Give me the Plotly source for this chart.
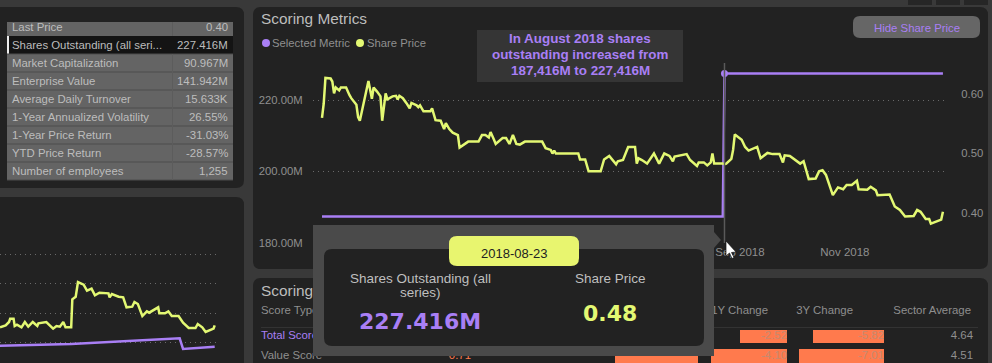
import pandas as pd
import plotly.graph_objects as go

# ---------- data ----------
price_days = [0,1,2,5,6,7,8,10,11,14,16,17,20,21,22,24,27,29,30,32,34,35,37,38,41,43,44,45,47,49,51,52,55,56,57,59,63,64,66,69,71,72,74,76,79,80,84,85,86,91,93,95,97,98,100,101,105,107,109,111,113,115,118,128,130,133,134,135,136,149,150,153,155,162,164,167,171,172,175,178,182,183,184,186,189,193,196,199,202,204,205,212,214,218,219,222,224,226,227,228,233,234,235,238,239,240,244,246,248,253,255,259,262,266,268,269,272,276,278,280,283,287,289,291,293,297,300,303,305,308,311,312,317,319,322,323,330,333,336,339,344,346,348,351,353,354,360,361]
price_vals = [.560,.584,.627,.626,.621,.601,.611,.606,.611,.611,.598,.593,.582,.561,.555,.584,.622,.592,.611,.604,.596,.555,.601,.591,.596,.597,.591,.597,.593,.585,.576,.585,.581,.578,.581,.571,.571,.576,.556,.555,.541,.551,.541,.535,.531,.510,.517,.520,.520,.520,.531,.531,.527,.536,.523,.516,.526,.526,.516,.531,.516,.515,.520,.520,.509,.506,.500,.505,.500,.500,.490,.490,.470,.470,.490,.496,.482,.487,.489,.511,.511,.483,.492,.489,.483,.500,.483,.500,.496,.487,.495,.499,.489,.479,.485,.485,.480,.485,.500,.483,.483,.482,.483,.491,.506,.532,.523,.511,.505,.511,.492,.501,.499,.499,.485,.497,.496,.488,.483,.487,.457,.458,.470,.472,.464,.430,.443,.440,.447,.447,.454,.440,.439,.444,.438,.430,.431,.411,.405,.394,.395,.405,.402,.390,.390,.382,.389,.402]
metric_days = [0, 233, 234, 361]
metric_vals = [187.416, 187.416, 227.416, 227.416]
hover_day = [234]
hover_metric = [227.416]

mini_days = [171,176,179,180,183,184,186,190,193,196,200,204,205,212,215,218,221,224,227,229,234,235,238,240,245,248,252,255,259,267,268,270,276,280,283,288,290,293,297,301,303,307,311,312,317,320,323,329,333,338,344,346,350,353,360,361]
mini_vals = [.396,.402,.412,.422,.422,.400,.404,.396,.412,.398,.412,.400,.408,.412,.402,.392,.400,.398,.412,.396,.396,.480,.488,.532,.524,.506,.512,.492,.500,.498,.486,.496,.488,.486,.456,.458,.472,.466,.430,.444,.440,.448,.456,.438,.438,.444,.430,.430,.410,.394,.394,.406,.396,.382,.392,.402]
mini_line_days = [171, 234, 330, 333, 361]
mini_line_vals = [.341, .346, .363, .331, .338]

metric_labels = ["Last Price","Shares Outstanding (all seri...","Market Capitalization","Enterprise Value","Average Daily Turnover","1-Year Annualized Volatility","1-Year Price Return","YTD Price Return","Number of employees"]
metric_values = ["0.40","227.416M","90.967M","141.942M","15.633K","26.55%","-31.03%","-28.57%","1,255"]

score_rows = ["Total Score","Value Score"]
sector_avg = ["4.64","4.51"]
change_1y = [-2.52, -4.10]
change_3y = [-5.82, -7.01]
change_other = [-4.45]
headers = ["Score Type","1Y Change","3Y Change","Sector Average"]

OUTER="#393939"; PANEL="#222222"; PURPLE="#a97ff5"; YELLOW="#e3f873"; GREY="#8f8f8f"; FONT="Liberation Sans, Arial, sans-serif"
W,H=992,363
X=lambda p:p/W
Y=lambda p:1-p/H
def start(d): return pd.Timestamp("2018-01-01")+pd.to_timedelta(d,unit="D")
def dates(ds): return [start(d) for d in ds]

def rrect(x0,y0,x1,y1,r,fill,layer="below",line=None):
    a,b,c,d=X(x0),Y(y0),X(x1),Y(y1); rx,ry=r/W,r/H
    p=(f"M{a+rx},{b} L{c-rx},{b} Q{c},{b} {c},{b-ry} L{c},{d+ry} Q{c},{d} {c-rx},{d} "
       f"L{a+rx},{d} Q{a},{d} {a},{d+ry} L{a},{b-ry} Q{a},{b} {a+rx},{b} Z")
    return dict(type="path",path=p,xref="paper",yref="paper",fillcolor=fill,line=dict(width=0) if line is None else line,layer=layer)
def rect(x0,y0,x1,y1,fill,layer="below"):
    return dict(type="rect",xref="paper",yref="paper",x0=X(x0),x1=X(x1),y0=Y(y1),y1=Y(y0),fillcolor=fill,line=dict(width=0),layer=layer)
def poly(pts,fill,layer="above",line=None):
    p="M"+" L".join(f"{X(a)},{Y(b)}" for a,b in pts)+" Z"
    return dict(type="path",path=p,xref="paper",yref="paper",fillcolor=fill,line=dict(width=0) if line is None else line,layer=layer)
def note(x,y,t,size=12,color=GREY,anchor="center",bold=False,family=FONT):
    return dict(x=X(x),y=Y(y),xref="paper",yref="paper",text=f"<b>{t}</b>" if bold else t,showarrow=False,xanchor=anchor,yanchor="middle",
                font=dict(size=size,color=color,family=family),borderpad=0,borderwidth=0)

shapes=[]; ann=[]
# panels
shapes+= [rrect(-10,7,244,188,8,PANEL),rrect(-10,197,244,373,8,PANEL),rrect(253,7,988,269,8,PANEL),rrect(253,278,988,373,8,PANEL)]
for a,b in [(908,932),(936,960),(964,988)]:
    shapes.append(rect(a,0,b,5,"#262626"))
# key figures table
shapes.append(rect(7,22,233,180,"#646464"))
shapes.append(rect(7,36,233,54,"#141414"))
shapes.append(rect(7,36,9,54,"#eeeeee"))
for i in range(1,9):
    shapes.append(rect(7,36+18*i-0.5,233,36+18*i+0.5,"#4c4c4c"))
shapes.append(rect(172,22,173,36,"#5c5c5c")); shapes.append(rect(172,54,173,180,"#5c5c5c"))
for i,(l,v) in enumerate(zip(metric_labels,metric_values)):
    yy=27+18*i
    ann.append(note(12,yy,l,11.4,"#bdbdbd","left"))
    ann.append(note(228,yy,v,11.4,"#bdbdbd","right"))
# main chart furniture
ann.append(note(261,19,"Scoring Metrics",15.4,"#bdbdbd","left"))
shapes.append(dict(type="circle",xref="paper",yref="paper",x0=X(262),x1=X(270),y0=Y(47),y1=Y(39),fillcolor=PURPLE,line=dict(width=0),layer="below"))
shapes.append(dict(type="circle",xref="paper",yref="paper",x0=X(356),x1=X(364),y0=Y(47),y1=Y(39),fillcolor=YELLOW,line=dict(width=0),layer="below"))
ann.append(note(272,43,"Selected Metric",11.3,GREY,"left"))
ann.append(note(367,43,"Share Price",11.3,GREY,"left"))
shapes.append(rect(477,30,683,82,"#353535"))
for yy,t in zip([39,55,71],["In August 2018 shares","outstanding increased from","187,416M to 227,416M"]):
    ann.append(note(580,yy,t,13.4,PURPLE,bold=True))
shapes.append(rrect(853,16,980,38,7,"#666666"))
ann.append(note(917,28,"Hide Share Price",11.4,PURPLE))
ann.append(note(261,290,"Scoring",15.4,"#bdbdbd","left"))
# hover line
shapes.append(dict(type="line",xref="x",yref="paper",x0=start(234),x1=start(234),y0=Y(243),y1=Y(63),line=dict(color="#5a5a5a",width=1.5),layer="above"))
# tooltip
shapes.append(poly([(714,232),(721,240),(714,248)],"#4a4a4a"))
shapes.append(rect(313,225,714,356,"#4a4a4a","above"))
shapes.append(rrect(324,249,704,346,8,PANEL,"above"))
shapes.append(rrect(449,236,579,266,8,"#e8f56f","above"))
ann+= [note(514,253,"2018-08-23",13,"#222222"),
       note(420,278,"Shares Outstanding (all",13.5,"#bfbfbf"),note(420,292,"series)",13.5,"#bfbfbf"),
       note(610,278,"Share Price",13.5,"#bfbfbf"),
       note(420,321,"227.416M",22,PURPLE,bold=True,family="DejaVu Sans"),
       note(610,313,"0.48",22,YELLOW,bold=True,family="DejaVu Sans")]
# cursor
shapes.append(poly([(726,241),(726,256),(729.5,253),(732,258.5),(734,257.5),(731.5,252.5),(736,252)],"#ffffff","above",dict(color="#111111",width=0.7)))
# table header rule
shapes.append(rect(261,327,978,328,"#333333"))

fig=go.Figure()
# main chart
fig.add_trace(go.Scatter(x=dates(price_days),y=price_vals,yaxis="y2",xaxis="x",mode="lines",name="Share Price",line=dict(color=YELLOW,width=2.5),showlegend=False))
fig.add_trace(go.Scatter(x=dates(metric_days),y=metric_vals,xaxis="x",yaxis="y",mode="lines",name="Selected Metric",line=dict(color=PURPLE,width=2.5),showlegend=False))
fig.add_trace(go.Scatter(x=dates(hover_day),y=hover_metric,xaxis="x",yaxis="y",mode="markers",marker=dict(color=PURPLE,size=7),showlegend=False))
# mini chart
fig.add_trace(go.Scatter(x=mini_days,y=mini_vals,xaxis="x3",yaxis="y3",mode="lines",line=dict(color=YELLOW,width=2.5),showlegend=False))
fig.add_trace(go.Scatter(x=mini_line_days,y=mini_line_vals,xaxis="x3",yaxis="y3",mode="lines",line=dict(color=PURPLE,width=2.5),showlegend=False))
# score table: bars and text, sitting under the tooltip
row_y=[336.5,356]
ORANGE="#ff7a4d"
fig.add_trace(go.Bar(x=change_1y,y=row_y,orientation="h",width=13.5,xaxis="x4",yaxis="y4",marker=dict(color=ORANGE,line=dict(width=0)),showlegend=False))
fig.add_trace(go.Bar(x=change_3y,y=row_y,orientation="h",width=13.5,xaxis="x5",yaxis="y4",marker=dict(color=ORANGE,line=dict(width=0)),showlegend=False))
fig.add_trace(go.Bar(x=change_other,y=row_y[1:],orientation="h",width=13.5,xaxis="x6",yaxis="y4",marker=dict(color=ORANGE,line=dict(width=0)),showlegend=False))
def txt(xs,ys,ts,pos,colors):
    fig.add_trace(go.Scatter(x=xs,y=ys,text=ts,mode="text",textposition=pos,xaxis="x7",yaxis="y4",cliponaxis=False,
                             textfont=dict(size=11.4,color=colors,family=FONT),showlegend=False))
txt([261],[311],[headers[0]],"middle right",[GREY])
txt([261,261],row_y,score_rows,"middle right",[PURPLE,GREY])
txt([471],[356],["0.71"],"middle left",[ORANGE])
txt([768,853,971],[311]*3,headers[1:],"middle left",[GREY]*3)
txt([973,973],row_y,sector_avg,"middle left",[GREY]*2)
txt([787,787],row_y,[f"{v:.2f}" for v in change_1y],"middle left",["#c58a70"]*2)
txt([884,884],row_y,[f"{v:.2f}" for v in change_3y],"middle left",["#c58a70"]*2)

hidden=dict(visible=False,fixedrange=True)
def xrange_zero(zero,scale): return [-zero/scale,(W-zero)/scale]
DOT="1px,4px"
fig.update_layout(
    template="none",
    width=W,height=H,margin=dict(l=0,r=0,t=0,b=0,pad=0),paper_bgcolor=OUTER,plot_bgcolor="rgba(0,0,0,0)",autosize=False,
    font=dict(family=FONT,color=GREY,size=12),shapes=shapes,annotations=ann,showlegend=False,bargap=0,barmode="overlay",
    xaxis=dict(domain=[X(313),X(948)],anchor="y",type="date",range=[start(-5.23),start(363.95)],
               tickvals=["2018-09-01","2018-11-01"],ticktext=["Sep 2018","Nov 2018"],
               showgrid=False,zeroline=False,showline=False,ticks="",tickfont=dict(size=11.5,color=GREY)),
    yaxis=dict(domain=[Y(243),Y(63)],anchor="x",range=[180,230.35],tickvals=[180,200,220],ticktext=["180.00M","200.00M","220.00M"],
               showgrid=True,griddash=DOT,gridcolor="#6a6a6a",gridwidth=1,zeroline=False,showline=False,ticks="outside",ticklen=7,tickcolor="rgba(0,0,0,0)",tickfont=dict(size=11.3,color=GREY)),
    yaxis2=dict(domain=[Y(243),Y(63)],anchor="x",overlaying="y",side="right",range=[.3496,.6521],tickvals=[.4,.5,.6],ticktext=["0.40","0.50","0.60"],
                showgrid=False,zeroline=False,showline=False,ticks="outside",ticklen=10,tickcolor="rgba(0,0,0,0)",tickfont=dict(size=11.3,color=GREY)),
    xaxis3=dict(domain=[0,X(220)],anchor="y3",range=[171,365.7],visible=False),
    yaxis3=dict(domain=[Y(360),Y(240)],anchor="x3",range=[.4-(360-326)/333,.4+(326-240)/333],tickvals=[.349,.438,.527,.616],showticklabels=False,
                showgrid=True,griddash=DOT,gridcolor="#6a6a6a",zeroline=False,showline=False),
    xaxis4=dict(domain=[0,1],anchor="y4",range=xrange_zero(787,18.6),**hidden),
    yaxis4=dict(domain=[0,1],anchor="x4",range=[H,0],**hidden),
    xaxis5=dict(domain=[0,1],anchor="y4",overlaying="x4",range=xrange_zero(884,12.15),**hidden),
    xaxis6=dict(domain=[0,1],anchor="y4",overlaying="x4",range=xrange_zero(698,18.6),**hidden),
    xaxis7=dict(domain=[0,1],anchor="y4",overlaying="x4",range=[0,W],**hidden),
)
fig.write_html("out.html",config=dict(displayModeBar=False,staticPlot=True),
               post_script=f"document.body.style.margin='0';document.body.style.background='{OUTER}';document.body.style.overflow='hidden';")
